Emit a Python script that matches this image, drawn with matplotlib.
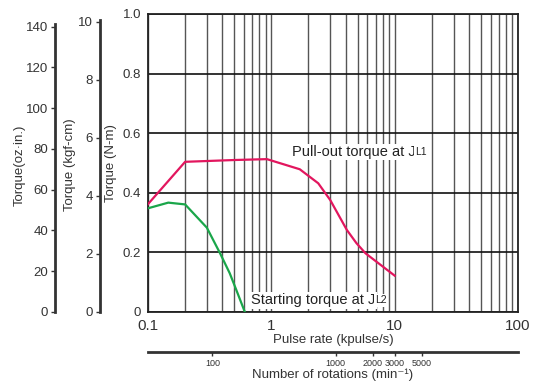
import numpy as np
import matplotlib.pyplot as plt
from matplotlib.ticker import FixedLocator, NullFormatter, NullLocator

plt.rcParams['font.family'] = ['Liberation Sans', 'DejaVu Sans']

# pulse rate (kpulse/s) and torque (N-m)
pullout_x = [0.1, 0.2, 0.5, 0.92, 1.7, 2.4, 3.0, 4.1, 4.9, 5.8, 10.0]
pullout_y = [0.362, 0.504, 0.510, 0.513, 0.479, 0.432, 0.376, 0.275, 0.231, 0.197, 0.122]
start_x = [0.1, 0.146, 0.2, 0.30, 0.384, 0.46, 0.52, 0.61]
start_y = [0.348, 0.367, 0.361, 0.283, 0.197, 0.130, 0.074, 0.0]

nm_ticks = [0, 0.2, 0.4, 0.6, 0.8, 1.0]
nm_labels = ['0', '0.2', '0.4', '0.6', '0.8', '1.0']
kgf_ticks = [0, 2, 4, 6, 8, 10]
oz_ticks = [0, 20, 40, 60, 80, 100, 120, 140]
x_ticks = [0.1, 1, 10, 100]
x_labels = ['0.1', '1', '10', '100']
rpm_ticks = [100, 1000, 2000, 3000, 5000]

W, H = 540, 387
fig = plt.figure(figsize=(5.4, 3.87), dpi=100)

def fx(px):
    return px / W

def fy(py):
    return 1 - py / H

txt = '#333333'
spine_c = '#333333'

# main axes
L, R, T, B = 148, 518, 14, 312
ax = fig.add_axes([fx(L), fy(B), fx(R - L), fy(T) - fy(B)])
ax.set_xscale('log')
ax.set_xlim(0.1, 100)
ax.set_ylim(0, 1.0)
ax.xaxis.set_major_locator(FixedLocator(x_ticks))
ax.set_xticklabels(x_labels)
ax.xaxis.set_minor_formatter(NullFormatter())
ax.set_yticks(nm_ticks)
ax.set_yticklabels(nm_labels)
ax.tick_params(axis='x', which='both', length=0, pad=5, labelsize=11, labelcolor=txt)
ax.tick_params(axis='y', length=0, pad=5, labelsize=9.5, labelcolor=txt)
for s in ax.spines.values():
    s.set_linewidth(1.3)
    s.set_color('#222222')
ax.grid(True, which='both', axis='x', color='#555555', lw=1.0)
ax.grid(True, which='major', axis='y', color='#111111', lw=1.2)
ax.set_axisbelow(True)

ax.plot(pullout_x, pullout_y, color='#e2165e', lw=1.6, zorder=3)
ax.plot(start_x, start_y, color='#1aa64a', lw=1.6, zorder=3)

ax.set_xlabel('Pulse rate (kpulse/s)', fontsize=9.5, color=txt, labelpad=1)
ax.set_ylabel('Torque (N-m)', fontsize=9.5, color=txt, labelpad=4)

box = dict(facecolor='white', edgecolor='none', pad=1.0)
t1 = ax.text(1.47, 0.537, 'Pull-out torque at J', fontsize=10.5, color='#222222',
             va='center', ha='left', bbox=box, zorder=4)
ax.annotate('L1', xy=(1, 0.12), xycoords=t1, fontsize=7.5, color='#222222',
            va='bottom', ha='left', bbox=box, zorder=4)
t2 = ax.text(0.684, 0.040, 'Starting torque at J', fontsize=10.5, color='#222222',
             va='center', ha='left', bbox=box, zorder=4)
ax.annotate('L2', xy=(1, 0.12), xycoords=t2, fontsize=7.5, color='#222222',
            va='bottom', ha='left', bbox=box, zorder=4)

# extra torque axes on the left
def side_axis(xpix, top, ymax, ticks, label, label_x):
    a = fig.add_axes([fx(xpix), fy(B), 1e-4, fy(top) - fy(B)])
    a.set_ylim(0, ymax)
    a.set_xticks([])
    for k in ['top', 'right', 'bottom']:
        a.spines[k].set_visible(False)
    a.spines['left'].set_linewidth(2.0)
    a.spines['left'].set_color(spine_c)
    a.set_yticks(ticks)
    a.tick_params(axis='y', length=3, width=1, color=spine_c, pad=2,
                  labelsize=9.5, labelcolor=txt)
    a.patch.set_visible(False)
    fig.text(fx(label_x), fy(165), label, rotation=90, fontsize=9.5,
             color=txt, ha='center', va='center')
    return a

side_axis(100, 20, 10 * (B - 20) / (B - 21.7), kgf_ticks, 'Torque (kgf-cm)', 70)
side_axis(55, 24, 140 * (B - 24) / (B - 26.7), oz_ticks, 'Torque(oz\u00b7in.)', 20)

# rotations axis
ar = fig.add_axes([fx(L), fy(352), fx(R - L), 1e-4])
ar.set_xscale('log')
ar.set_xlim(30, 30000)
ar.set_yticks([])
for k in ['top', 'right', 'left']:
    ar.spines[k].set_visible(False)
ar.spines['bottom'].set_linewidth(2.0)
ar.spines['bottom'].set_color(spine_c)
ar.xaxis.set_major_locator(FixedLocator(rpm_ticks))
ar.set_xticklabels([str(v) for v in rpm_ticks])
ar.xaxis.set_minor_locator(NullLocator())
ar.tick_params(axis='x', length=3, width=1, color=spine_c, pad=2,
               labelsize=6.5, labelcolor=txt)
ar.patch.set_visible(False)
fig.text(fx(333), fy(375), 'Number of rotations (min\u207b\u00b9)', fontsize=9.5,
         color=txt, ha='center', va='center')

fig.savefig('out.png', dpi=100)
